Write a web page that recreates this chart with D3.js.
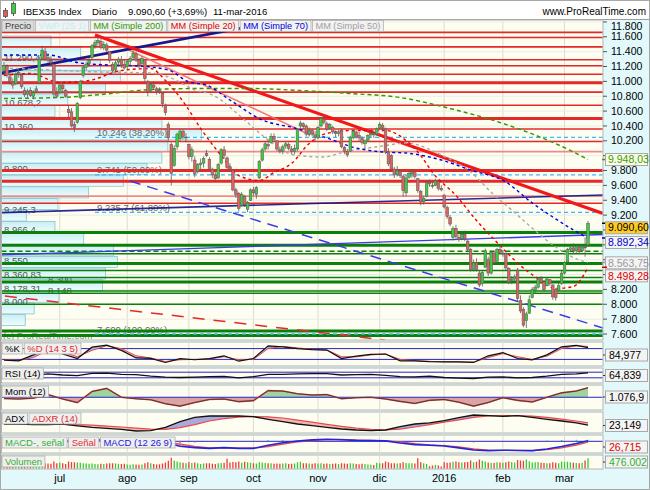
<!DOCTYPE html>
<html><head><meta charset="utf-8">
<script src="https://cdn.jsdelivr.net/npm/d3@7/dist/d3.min.js"></script>
<style>html,body{margin:0;padding:0;background:#fff}svg{display:block;font-family:"Liberation Sans",Arial,Helvetica,sans-serif}</style>
</head><body><svg id="chart" width="650" height="490"></svg>
<script>
// ---------------- DATA ----------------
// daily candles [open, high, low, close], 4-jun-2015 .. 11-mar-2016
const candles=[
[11150,11260,11080,11210],[11200,11230,11050,11080],[11060,11100,10960,11000],[10990,11040,10900,10950],[10970,11120,10950,11090],
[11100,11180,11050,11120],[11080,11100,10900,10930],[10880,10920,10790,10820],[10830,10900,10780,10870],[10880,10920,10790,10810],
[10800,10880,10760,10850],[10870,10940,10850,10900],[10980,11330,10970,11300],[11310,11480,11290,11420],[11400,11450,11280,11300],
[11320,11380,11250,11290],[11280,11340,11200,11250],[11230,11240,10780,10830],[10840,10920,10780,10800],
[10850,10980,10830,10950],[10950,10990,10860,10900],[10880,10900,10780,10800],[10620,10680,10520,10580],[10590,10640,10380,10400],
[10420,10460,10320,10380],[10450,10720,10430,10700],[10780,11020,10760,11000],[11080,11210,11050,11190],[11190,11260,11150,11230],
[11240,11320,11190,11280],[11320,11500,11300,11480],[11480,11560,11440,11520],[11520,11600,11480,11550],[11540,11570,11430,11460],
[11450,11540,11420,11500],[11490,11520,11390,11420],[11400,11410,11250,11280],[11230,11260,11120,11150],[11160,11280,11130,11250],
[11260,11330,11200,11300],[11290,11340,11180,11220],[11230,11300,11160,11180],
[11200,11290,11150,11270],[11270,11340,11210,11310],[11320,11420,11290,11380],[11370,11400,11260,11290],[11280,11320,11180,11220],
[11240,11340,11220,11310],[11290,11300,11000,11040],[10990,11020,10800,10860],[10880,10990,10840,10960],[10950,11000,10880,10920],
[10900,10930,10820,10870],[10880,10920,10830,10860],[10840,10850,10650,10700],[10680,10700,10540,10580],[10420,10450,10200,10240],
[10150,10180,9600,9760],[9870,10140,9850,10100],[10120,10310,10080,10290],[10230,10360,10200,10330],[10330,10350,10220,10260],
[10240,10300,10180,10250],
[10150,10160,9950,9990],[9990,10120,9920,10080],[9940,9990,9710,9760],[9790,9900,9760,9880],[9880,9960,9820,9900],
[9900,9990,9840,9960],[10030,10080,9980,10000],[9950,9980,9800,9830],[9820,9840,9700,9740],[9740,9780,9650,9690],
[9700,9900,9690,9880],[9900,10100,9880,10080],[10080,10130,9960,10000],[9970,9990,9820,9840],[9850,9900,9780,9820],
[9800,9810,9520,9540],[9540,9570,9430,9480],[9490,9510,9250,9290],[9330,9510,9320,9480],[9450,9470,9310,9340],
[9280,9390,9240,9370],[9400,9560,9390,9540],
[9540,9580,9460,9500],[9480,9590,9420,9570],[9700,9940,9690,9920],[9940,10110,9920,10080],[10090,10190,10060,10160],
[10150,10220,10080,10130],[10180,10300,10160,10260],[10260,10300,10190,10220],[10200,10210,10060,10090],[10080,10120,10030,10060],
[10060,10150,10020,10120],[10130,10190,10090,10160],[10150,10180,10070,10100],[10090,10130,10020,10060],[10060,10150,10020,10100],
[10090,10370,10060,10350],[10400,10470,10370,10440],[10430,10450,10360,10390],[10400,10420,10260,10290],[10290,10380,10260,10340],
[10340,10360,10260,10290],[10280,10330,10200,10250],
[10240,10400,10220,10380],[10400,10520,10380,10500],[10490,10530,10420,10450],[10430,10460,10330,10360],[10370,10440,10350,10420],
[10380,10400,10290,10320],[10310,10340,10250,10300],[10300,10350,10260,10320],[10340,10370,10100,10120],[10110,10130,10020,10060],
[10060,10090,9980,10010],[10060,10270,10050,10250],[10240,10350,10220,10330],[10320,10340,10230,10260],[10270,10320,10200,10240],
[10230,10260,10150,10180],[10160,10220,10090,10200],[10210,10290,10190,10270],[10280,10330,10250,10300],[10300,10340,10240,10280],
[10290,10380,10270,10360],
[10370,10450,10350,10420],[10410,10440,10330,10370],[10360,10380,10020,10050],[10050,10100,9860,9890],[10000,10020,9790,9820],
[9820,9850,9700,9740],[9750,9860,9720,9800],[9790,9820,9700,9730],[9720,9740,9450,9530],[9500,9740,9450,9700],
[9710,9800,9690,9760],[9760,9820,9700,9780],[9770,9790,9690,9720],[9690,9700,9500,9530],[9520,9540,9330,9380],
[9380,9460,9340,9430],[9450,9660,9440,9640],[9640,9680,9580,9620],[9600,9650,9560,9590],[9600,9690,9590,9660],
[9650,9660,9530,9560],[9560,9600,9520,9540],
[9470,9480,9290,9310],[9300,9330,9150,9180],[9170,9200,9050,9080],[8900,9050,8860,9020],[9020,9070,8880,8910],
[8900,8940,8840,8870],[8880,8970,8860,8940],[8940,8990,8850,8880],[8850,8870,8700,8740],[8740,8760,8440,8470],
[8470,8600,8440,8560],[8560,8620,8440,8470],[8420,8450,8230,8260],[8280,8460,8240,8430],[8500,8750,8490,8720],
[8600,8640,8380,8420],[8420,8720,8400,8700],[8690,8720,8540,8560],[8580,8760,8560,8740],[8740,8800,8680,8700],
[8690,8730,8640,8690],[8680,8700,8460,8490],[8480,8500,8270,8300],[8320,8380,8270,8340],[8340,8400,8300,8370],
[8460,8490,8040,8080],[8050,8120,7880,7910],[7930,7960,7690,7720],[7780,7900,7680,7870],[7880,8120,7870,8060],
[8090,8230,8080,8200],[8190,8260,8150,8230],[8230,8360,8210,8340],[8350,8380,8280,8300],[8300,8320,8170,8200],
[8250,8370,8240,8340],[8330,8340,8250,8280],[8260,8270,8060,8100],[8200,8220,8050,8090],[8190,8290,8180,8250],
[8280,8450,8260,8420],
[8420,8580,8400,8560],[8570,8760,8560,8740],[8740,8800,8700,8760],[8760,8820,8690,8720],[8720,8800,8680,8780],
[8770,8790,8680,8710],[8720,8800,8700,8770],[8770,8900,8640,8767],[8800,9120,8790,9090.6]
];
// daily volume, thousands
const volumes=[
220,230,200,210,240,230,250,260,240,230,250,380,300,280,260,240,230,330,260,
280,250,220,330,310,300,290,280,250,240,230,240,220,210,230,220,240,260,250,240,230,220,230,
200,190,210,200,190,200,260,300,250,220,200,210,240,290,360,500,380,330,300,280,260,
300,270,290,250,220,240,260,250,230,220,260,270,280,450,290,310,300,330,280,320,300,280,
250,240,300,290,270,260,250,230,240,230,240,260,220,230,240,300,320,260,250,240,230,250,
240,250,230,240,220,230,240,220,260,240,230,250,240,220,210,230,220,200,190,180,280,
260,250,330,300,260,250,240,250,300,270,260,250,240,480,300,260,220,120,150,180,160,110,
300,280,290,320,330,300,290,300,310,380,300,320,420,360,330,290,280,270,300,290,
280,300,330,310,290,400,380,370,420,340,290,300,310,280,270,260,250,300,280,260,330,
310,320,300,280,270,260,280,380,476.002
];
const monthIdx=[19,42,63,85,107,128,150,170,191];
const monthLabels=['jul','ago','sep','oct','nov','dic','2016','feb','mar'];
const priceTicks=[7600,7800,8000,8200,8400,8600,8800,9000,9200,9400,9600,9800,10000,10200,10400,10600,10800,11000,11200,11400,11600,11800];

// moving averages (sampled: candle index -> value)
const ma200Idx=[0,19,33,50,67,84,101,118,135,152,169,183,193,199];
const ma200Val=[10770,10783,10823,10890,10904,10904,10877,10837,10783,10635,10447,10245,10070,9948.03];
const ma20Idx=[0,9,19,29,40,50,55,62,67,74,80,87,92,98,104,110,119,124,130,137,142,146,154,161,169,173,178,183,188,194,199];
const ma20Val=[11079,11106,10985,11012,11146,11173,11012,10675,10366,10003,9733,9666,9774,9895,10164,10299,10339,10339,10339,10204,10002,9774,9464,9128,8791,8630,8455,8320,8212,8239,8498.28];
const ma70Idx=[0,15,26,36,46,56,63,69,77,88,99,110,120,129,137,149,159,171,180,187,194,199];
const ma70Val=[11355,11355,11247,11220,11207,11153,10992,10951,10749,10480,10373,10238,10103,10050,10036,9942,9807,9646,9363,9175,9000,8892.34];
const ma50Idx=[0,16,33,50,57,65,71,82,90,99,109,116,129,137,149,159,167,173,178,188,196,199];
const ma50Val=[11180,11153,11126,11113,11045,10884,10817,10480,10211,10009,9982,10050,10130,10171,10009,9780,9471,9269,9094,8771,8596,8563.75];

// volume-at-price profile (price range, top bin first)
const vpHigh=11611, vpLow=7708;
const vpVolumes=[50,80,100,120,105,67,54,162,202,168,162,147,123,88,57,25,54,83,113,117,105,102,58,33,24];
const vpLabelPrices=[11290.4,10678.2,10360,9800,9245.3,8966.4,8550,8360.83,8300,8178.31,8148,8000];
const vpLabelTexts=['11.290,4','10.678,2','10.360','9.800','9.245,3','8.966,4','8.550','8.360,83','8.300','8.178,31','8.148','8.000'];

// horizontal support / resistance levels
const redLevels=[11660,11590,11465,11290.4,11210,11095,10980,10855,10678.2,10500,10360,10190,10055,9800,9655,9455,9360];
const redStrong=[10980,10500,9800,9655];
const redFaint=[10055,9455];
const greenLevels=[8966.4,8795,8680,8550,8455,8360.83,8300,8178.31,8148,8000,7640,7580];
const greenStrong=[8966.4,8795,8550,8300,7640,7580];
const greenDashed=[8715];

// fibonacci retracement
const fibStartIdx=31;
const fibLevels=[10246,9741,9235.7,7600];
const fibTexts=['10.246 (38,20%)','9.741 (50,00%)','9.235,7 (61,80%)','7.600 (100,00%)'];

// trend lines [index0, price0, index1, price1]
const trendRedMain=[31,11624,204.1,9222];
const trendRedThin=[31.7,11624,104.3,10279];
const trendNavyUp=[-1.4,11109,97.4,11840];
const trendNavyFlat=[-1.4,9233,204.1,9471];
const trendBlue=[-1.4,8663,204.1,8939];
const trendBlueDash=[42.9,9659,204.1,7681];
const trendRedDash=[0.3,8111,129.8,7519];

// indicators (sampled every 5 sessions)
const oscIdx=[0,5,10,15,20,25,30,35,40,45,50,55,60,65,70,75,80,85,90,95,100,105,110,115,120,125,130,135,140,145,150,155,160,165,170,175,180,185,190,195,199];
const stochK=[16,12,45,80,50,25,88,99,70,28,26,3,24,18,24,40,10,25,95,90,80,74,72,25,38,48,50,12,12,8,6,6,3,40,58,25,17,45,90,98,84.977];
const stochD=[20,14,30,70,62,35,70,96,80,40,28,8,18,20,22,35,18,20,80,92,84,76,73,35,34,45,50,20,13,9,7,6,5,30,52,35,20,38,80,96,92];
const rsi=[45,45,48,58,50,45,62,63,55,52,42,35,32,35,38,40,30,38,55,55,58,60,60,50,52,54,48,38,36,42,32,28,25,35,36,30,32,42,55,58,64.839];
const mom=[-150,-200,-100,300,-200,-600,650,1000,0,-170,-290,-730,-1000,-600,-250,-200,-500,-380,750,700,400,250,300,-170,-50,0,-200,-470,-700,-350,-250,-560,-1000,-600,-50,-350,-540,0,500,700,1076.9];
const adx=[25,25,24,24,25,22,19.5,17.8,16.2,13.3,13.8,19.5,28.9,36,38.3,38.3,38.3,37.2,32.8,28.9,25,22.2,19.5,16.7,15,13.9,15,20.5,25,27,30.5,35.5,40,38.9,37.8,38.9,36,32.8,30,27,23.149];
const adxr=[25,25,25,24.5,24.5,24,23,21.5,20,18,16.5,16,19,24,30,34,36.5,37.5,37,35,31.5,28,24.5,21,18,16,15,16.5,20,24,28,32,36,38.5,39,39,38,36,33,30,27];
const macd=[20,0,-10,20,20,-40,30,90,100,60,20,-60,-210,-270,-300,-270,-300,-300,-170,-60,10,60,90,70,40,30,20,-70,-140,-170,-200,-280,-370,-400,-380,-390,-400,-330,-220,-90,26.715];
const signal=[25,10,0,5,15,-10,0,50,85,80,45,-10,-120,-220,-280,-285,-290,-295,-230,-120,-30,30,70,80,55,40,25,-20,-100,-150,-180,-240,-320,-380,-390,-390,-395,-360,-280,-160,-40];

// ---------------- DRAWING ----------------
const svg=d3.select('#chart');
const defs=svg.append('defs');
const loc=d3.formatLocale({decimal:',',thousands:'.',grouping:[3],currency:['','']});
const f0=loc.format(',.0f'),f1=loc.format(',.1f'),f2=loc.format(',.2f'),f3=loc.format(',.3f');
const XL=1.5, XR=603;
const x=d3.scaleLinear().domain([0,199]).range([4,588]);
const y=d3.scaleLinear().domain([7600,11600]).range([334,36.8]);

svg.append('rect').attr('width',650).attr('height',490).attr('fill','#e2f8fa');
svg.append('rect').attr('width',650).attr('height',19.5).attr('fill','#ffffff');
svg.append('line').attr('x1',0).attr('x2',650).attr('y1',19.5).attr('y2',19.5).attr('stroke','#9c9c9c');
svg.append('rect').attr('x',0.5).attr('y',0.5).attr('width',649).attr('height',489).attr('fill','none').attr('stroke','#a8a8a8');

// header
const ic=svg.append('g');
ic.append('line').attr('x1',5.5).attr('x2',5.5).attr('y1',8).attr('y2',18).attr('stroke','#555');
ic.append('rect').attr('x',3.5).attr('y',10.5).attr('width',4).attr('height',6).attr('fill','#e05a5a').attr('stroke','#555').attr('stroke-width',0.8);
ic.append('line').attr('x1',13.5).attr('x2',13.5).attr('y1',1.5).attr('y2',16).attr('stroke','#555');
ic.append('rect').attr('x',11.5).attr('y',3.5).attr('width',4).attr('height',10).attr('fill','#3ccc3c').attr('stroke','#555').attr('stroke-width',0.8);
const titleParts=['IBEX35 Index','Diario',f2(candles[candles.length-1][3])+' (+3,69%)','11-mar-2016'];
const titleX=[23,92,128,213];
titleParts.forEach((t,k)=>svg.append('text').attr('x',titleX[k]).attr('y',14.5).attr('font-size',9.6).attr('fill','#000').text(t));
svg.append('text').attr('x',646).attr('y',14.5).attr('text-anchor','end').attr('font-size',10).attr('fill','#000').text('www.ProRealTime.com');

// panels
const panels={main:[20,340],stoch:[342,366],rsi:[368,383],mom:[385,410],adx:[412,433],macd:[435,453],vol:[455,469]};
Object.entries(panels).forEach(([k,[t,b]])=>{
  svg.append('rect').attr('x',XL).attr('y',t).attr('width',XR-XL).attr('height',b-t).attr('fill','#fdfdf1').attr('stroke','#b4b4b4');
  defs.append('clipPath').attr('id','clip-'+k).append('rect').attr('x',XL+0.5).attr('y',t+0.5).attr('width',XR-XL-1).attr('height',b-t-1);
  monthIdx.forEach(i=>svg.append('line').attr('x1',x(i)).attr('x2',x(i)).attr('y1',t+0.5).attr('y2',b-0.5).attr('stroke','#dedcd2'));
});

// ---------- main panel ----------
const mg=svg.append('g').attr('clip-path','url(#clip-main)');
priceTicks.forEach(p=>mg.append('line').attr('x1',XL).attr('x2',XR).attr('y1',y(p)).attr('y2',y(p)).attr('stroke','#ecebe0'));

// volume profile
const grad=defs.append('linearGradient').attr('id','vpg').attr('x1',0).attr('y1',0).attr('x2',0).attr('y2',1);
grad.append('stop').attr('offset','0%').attr('stop-color','#c8eff4');
grad.append('stop').attr('offset','100%').attr('stop-color','#effcfd');
const vpW=d3.scaleLinear().domain([0,d3.max(vpVolumes)]).range([0,200]);
const binP=(vpHigh-vpLow)/vpVolumes.length;
vpVolumes.forEach((v,k)=>{
  const top=vpHigh-k*binP, bot=top-binP;
  mg.append('rect').attr('x',XL).attr('y',y(top)).attr('width',vpW(v)).attr('height',y(bot)-y(top)-0.5)
    .attr('fill','url(#vpg)').attr('stroke','#86c5ca').attr('stroke-width',0.8);
});
// level labels: the tight cluster near 8.150-8.360 is nudged so the texts stay legible
const vpLabelDx={'8.300':44,'8.148':44};
vpLabelPrices.forEach((p,k)=>mg.append('text').attr('x',4+(vpLabelDx[vpLabelTexts[k]]||0)).attr('y',y(p)+1)
  .attr('font-size',9.5).attr('fill','#555').text(vpLabelTexts[k]));
fibLevels.forEach((p,k)=>mg.append('text').attr('x',x(fibStartIdx)+2).attr('y',y(p)-1.5).attr('font-size',9.5).attr('fill','#666').text(fibTexts[k]));
mg.append('text').attr('x',3).attr('y',338.5).attr('font-size',9.5).attr('fill','#888').text('(c) ProRealTime.com');

// horizontal levels
redLevels.forEach(p=>{
  const strong=redStrong.includes(p), faint=redFaint.includes(p);
  mg.append('line').attr('x1',XL).attr('x2',XR).attr('y1',y(p)).attr('y2',y(p))
    .attr('stroke',faint?'#f08a8a':'#e52828').attr('stroke-width',strong?3:1.6);
});
greenLevels.forEach(p=>{
  const strong=greenStrong.includes(p);
  mg.append('line').attr('x1',XL).attr('x2',XR).attr('y1',y(p)).attr('y2',y(p))
    .attr('stroke','#0a800a').attr('stroke-width',strong?3:1.6);
});
greenDashed.forEach(p=>mg.append('line').attr('x1',XL).attr('x2',XR).attr('y1',y(p)).attr('y2',y(p))
  .attr('stroke','#0a800a').attr('stroke-width',1.5).attr('stroke-dasharray','5,3'));
fibLevels.forEach(p=>mg.append('line').attr('x1',x(fibStartIdx)).attr('x2',XR).attr('y1',y(p)).attr('y2',y(p))
  .attr('stroke','#3ab8ff').attr('stroke-width',1.3).attr('stroke-dasharray','4,3'));

// trend lines
function trend(t,col,w,dash,op){
  const l=mg.append('line').attr('x1',x(t[0])).attr('y1',y(t[1])).attr('x2',x(t[2])).attr('y2',y(t[3]))
    .attr('stroke',col).attr('stroke-width',w).attr('opacity',op||1);
  if(dash) l.attr('stroke-dasharray',dash);
}
trend(trendRedDash,'#e52828',1.5,'12,9');
trend(trendBlueDash,'#3c3ce6',1.5,'11,7');
trend(trendBlue,'#3a3ae8',1.3);
trend(trendNavyFlat,'#14148a',1.6,null,0.9);
trend(trendRedThin,'#f07070',1.6,null,0.9);
trend(trendNavyUp,'#18188c',2.6);
trend(trendRedMain,'#f01818',3.2);

// moving averages
function ma(idx,val,col,dash,w){
  const line=d3.line().x(d=>x(d[0])).y(d=>y(d[1])).curve(d3.curveMonotoneX);
  mg.append('path').attr('d',line(idx.map((i,k)=>[i,val[k]]))).attr('fill','none')
    .attr('stroke',col).attr('stroke-width',w).attr('stroke-dasharray',dash);
}
ma(ma200Idx,ma200Val,'#339900','4,3',1.4);
ma(ma50Idx,ma50Val,'#a8a8a8','3,3',1.4);
ma(ma70Idx,ma70Val,'#0000e0','3,3',1.4);
ma(ma20Idx,ma20Val,'#ee0000','3,3',1.4);

// candles
mg.selectAll('line.wick').data(candles).join('line').attr('class','wick')
  .attr('x1',(d,i)=>x(i)).attr('x2',(d,i)=>x(i)).attr('y1',d=>y(d[1])).attr('y2',d=>y(d[2]))
  .attr('stroke','#5c5c5c').attr('stroke-width',0.8);
mg.selectAll('rect.body').data(candles).join('rect').attr('class','body')
  .attr('x',(d,i)=>x(i)-1.3).attr('width',2.6)
  .attr('y',d=>y(Math.max(d[0],d[3]))).attr('height',d=>Math.max(0.8,Math.abs(y(d[0])-y(d[3]))))
  .attr('fill',d=>d[3]>=d[0]?'#3dcc3d':'#e06262').attr('stroke','#606060').attr('stroke-width',0.6);

// labels rows
function labelRow(y0,items,colors,bgs,fs){
  let cx=XL+0.5;
  items.forEach((t,k)=>{
    const r=svg.append('rect').attr('y',y0).attr('height',11).attr('fill',bgs?bgs[k]:'#efefef').attr('stroke','#b0b0b0').attr('stroke-width',0.8);
    const tx=svg.append('text').attr('x',cx+3).attr('y',y0+8.8).attr('font-size',fs||9.5).attr('fill',colors[k]).text(t);
    const w=tx.node().getComputedTextLength();
    r.attr('x',cx).attr('width',w+6);
    cx+=w+7.5;
  });
}
labelRow(20.5,['Precio','VWP (25 1)','MM (Simple 200)','MM (Simple 20)','MM (Simple 70)','MM (Simple 50)'],
  ['#404040','#bdeff6','#2f9a00','#e00000','#0000dd','#a0a0a0'],['#dcdcdc','#f2f2f2','#f2f2f2','#f2f2f2','#f2f2f2','#f2f2f2'],9.2);

// right price axis (value boxes first, so covered ticks can be skipped)
const last=candles[candles.length-1][3];
const vl=[
 {v:ma200Val[ma200Val.length-1],c:'#3c9c00',bg:'#fbfbea'},
 {v:last,c:'#000',bg:'#ffcc22'},
 {v:ma70Val[ma70Val.length-1],c:'#0000cc',bg:'#f4f4f4'},
 {v:ma50Val[ma50Val.length-1],c:'#9a9a9a',bg:'#f4f4f4'},
 {v:ma20Val[ma20Val.length-1],c:'#e00000',bg:'#f4f4f4'}];
vl.forEach(d=>d.cy=y(d.v)+(d.v>9500?0:4.5));
vl.sort((a,b)=>a.cy-b.cy);
for(let k=1;k<vl.length;k++){ if(vl[k].cy-vl[k-1].cy<13){const m=(vl[k].cy+vl[k-1].cy)/2; vl[k-1].cy=m-6.5; vl[k].cy=m+6.5;} }
priceTicks.forEach(p=>{
  const yy=y(p);
  if(yy>20) svg.append('line').attr('x1',XR).attr('x2',XR+4).attr('y1',yy).attr('y2',yy).attr('stroke','#555');
  const ly=Math.max(26,yy);
  if(vl.some(d=>Math.abs(d.cy-ly)<10.5)) return;
  svg.append('text').attr('x',611).attr('y',ly).attr('dy','0.35em').attr('font-size',10.5).attr('fill','#000').text(f0(p));
});
vl.forEach(d=>{
  svg.append('line').attr('x1',XR-1).attr('x2',XR+4).attr('y1',y(d.v)).attr('y2',y(d.v)).attr('stroke',d.c).attr('stroke-width',1.5);
  svg.append('rect').attr('x',605.5).attr('y',d.cy-6).attr('width',42).attr('height',12).attr('fill',d.bg).attr('stroke','#a8a8a8');
  svg.append('text').attr('x',608).attr('y',d.cy).attr('dy','0.35em').attr('font-size',10.5).attr('fill',d.c).text(f2(d.v));
});

// ---------- indicator helpers ----------
const ox=oscIdx.map(i=>x(i));
function bands(g,id,a,b,ys,top,bot,colA,colB){
  const pts=ox.map((xx,i)=>[xx,ys(a[i]),ys(b[i])]);
  const band=d3.area().x(d=>d[0]).y0(d=>d[1]).y1(d=>d[2]);
  defs.append('clipPath').attr('id',id+'A').append('path').attr('d',d3.area().x(d=>d[0]).y0(top).y1(d=>d[2])(pts));
  defs.append('clipPath').attr('id',id+'B').append('path').attr('d',d3.area().x(d=>d[0]).y0(d=>d[2]).y1(bot)(pts));
  g.append('g').attr('clip-path',`url(#${id}A)`).append('path').attr('d',band(pts)).attr('fill',colA);
  g.append('g').attr('clip-path',`url(#${id}B)`).append('path').attr('d',band(pts)).attr('fill',colB);
}
function pline(g,vals,ys,col,w){
  g.append('path').attr('d',d3.line().x((d,i)=>ox[i]).y(d=>ys(d))(vals)).attr('fill','none').attr('stroke',col).attr('stroke-width',w);
}
function hline(g,yy){ g.append('line').attr('x1',XL).attr('x2',XR).attr('y1',yy).attr('y2',yy).attr('stroke','#2424c8').attr('stroke-width',1); }
function valBox(cy,txt,col){
  svg.append('line').attr('x1',XR).attr('x2',XR+4).attr('y1',cy).attr('y2',cy).attr('stroke','#333');
  svg.append('rect').attr('x',605.5).attr('y',cy-6).attr('width',42).attr('height',12).attr('fill','#f4f4f4').attr('stroke','#a8a8a8');
  svg.append('text').attr('x',609).attr('y',cy).attr('dy','0.35em').attr('font-size',10.5).attr('fill',col).text(txt);
}

// stochastic
{ const [t,b]=panels.stoch; const g=svg.append('g').attr('clip-path','url(#clip-stoch)');
  const ys=d3.scaleLinear().domain([0,100]).range([363,345]);
  hline(g,ys(80)); hline(g,ys(20));
  bands(g,'st',stochK,stochD,ys,t,b,'#aaaaea','#f3b2b2');
  pline(g,stochD,ys,'#e84a4a',1); pline(g,stochK,ys,'#111',1.2);
  labelRow(t+1,['%K','%D (14 3 5)'],['#000','#e03030']);
  valBox(355,f3(stochK[stochK.length-1]),'#000'); }
// RSI
{ const [t,b]=panels.rsi; const g=svg.append('g').attr('clip-path','url(#clip-rsi)');
  const ys=d3.scaleLinear().domain([0,100]).range([382,368]);
  hline(g,ys(70)); hline(g,ys(30));
  pline(g,rsi,ys,'#111',1.3);
  labelRow(t,['RSI (14)'],['#000']);
  valBox(375.5,f3(rsi[rsi.length-1]),'#000'); }
// Momentum
{ const [t,b]=panels.mom; const g=svg.append('g').attr('clip-path','url(#clip-mom)');
  const ys=d3.scaleLinear().domain([-1500,1500]).range([410.5,384]);
  const zero=oscIdx.map(()=>0);
  bands(g,'mo',mom,zero,ys,t,b,'#9fd49f','#d9a4a4');
  hline(g,ys(0));
  pline(g,mom,ys,'#e05050',1.6); pline(g,mom,ys,'#303030',0.8);
  labelRow(t+1,['Mom (12)'],['#000']);
  valBox(397,f1(mom[mom.length-1]),'#000'); }
// ADX
{ const [t,b]=panels.adx; const g=svg.append('g').attr('clip-path','url(#clip-adx)');
  const ys=d3.scaleLinear().domain([10,45]).range([433,412]);
  bands(g,'ad',adx,adxr,ys,t,b,'#a9a9dc','#f0b8b8');
  pline(g,adxr,ys,'#e84a4a',1.2); pline(g,adx,ys,'#111',1.3);
  labelRow(t+1,['ADX','ADXR (14)'],['#000','#e03030']);
  valBox(425.5,f3(adx[adx.length-1]),'#000'); }
// MACD
{ const [t,b]=panels.macd; const g=svg.append('g').attr('clip-path','url(#clip-macd)');
  const ys=d3.scaleLinear().domain([-500,270]).range([453,435]);
  bands(g,'mc',macd,signal,ys,t,b,'#a6e0a6','#f2b4b4');
  hline(g,ys(0));
  macd.forEach((m,k)=>{ const h=m-signal[k];
    g.append('line').attr('x1',ox[k]).attr('x2',ox[k]).attr('y1',ys(0)).attr('y2',ys(h)).attr('stroke',h>=0?'#30c030':'#e04040').attr('stroke-width',1.2); });
  pline(g,signal,ys,'#e84a4a',1.2); pline(g,macd,ys,'#2424e0',1.6);
  labelRow(t+2,['MACD-, señal','Señal','MACD (12 26 9)'],['#30b030','#e03030','#2020e0']);
  valBox(447,f3(macd[macd.length-1]),'#e00000'); }
// Volume
{ const [t,b]=panels.vol; const g=svg.append('g').attr('clip-path','url(#clip-vol)');
  const ys=d3.scaleLinear().domain([0,620]).range([469,455]);
  g.selectAll('line.v').data(volumes).join('line').attr('x1',(d,i)=>x(i)).attr('x2',(d,i)=>x(i))
    .attr('y1',ys(0)).attr('y2',d=>ys(d)).attr('stroke',(d,i)=>candles[i][3]>=candles[i][0]?'#33cc33':'#ee3a3a').attr('stroke-width',1.3);
  labelRow(t+1,['Volumen'],['#30b030']);
  valBox(462,f0(volumes[volumes.length-1]*1000),'#30b030'); }

// x axis
monthIdx.forEach((i,k)=>svg.append('text').attr('x',x(i)).attr('y',482).attr('text-anchor','middle').attr('font-size',11).attr('fill','#000').text(monthLabels[k]));
</script></body></html>
